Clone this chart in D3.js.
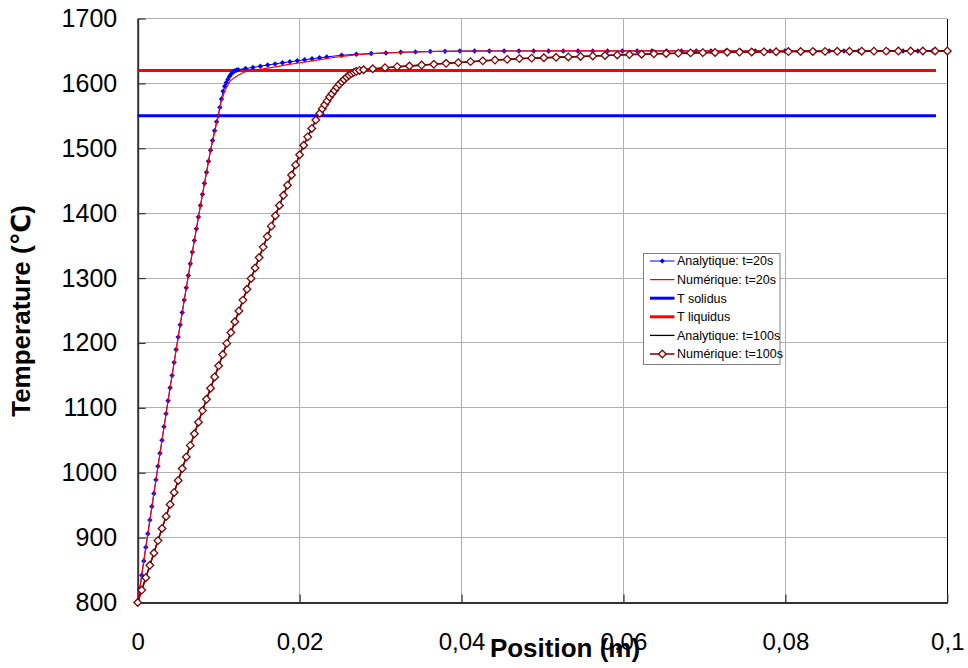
<!DOCTYPE html>
<html><head><meta charset="utf-8">
<script src="https://cdn.jsdelivr.net/npm/d3@7/dist/d3.min.js"></script>
<style>
html,body{margin:0;padding:0;background:#fff;}
svg{display:block;font-family:Arial,"Liberation Sans","DejaVu Sans",sans-serif;}
</style></head>
<body><svg id="chart" width="968" height="668"></svg>
<script>
// ---------- DATA ----------
const xTicks = [0, 0.02, 0.04, 0.06, 0.08, 0.1];
const xTickLabels = ["0", "0,02", "0,04", "0,06", "0,08", "0,1"];
const yTicks = [800, 900, 1000, 1100, 1200, 1300, 1400, 1500, 1600, 1700];
const yTickLabels = ["800", "900", "1000", "1100", "1200", "1300", "1400", "1500", "1600", "1700"];
const seriesNames = ["Analytique: t=20s", "Numérique: t=20s", "T solidus", "T liquidus", "Analytique: t=100s", "Numérique: t=100s"];

// Analytique t=20s  [position (m), temperature (°C)]
const analytique20 = [[0,800],[0.00025,821],[0.0005,842],[0.00075,864],[0.001,885],[0.00125,906],[0.0015,927],[0.00175,948],[0.002,968],[0.00225,989],[0.0025,1010],[0.00275,1030],[0.003,1050],[0.00325,1071],[0.0035,1091],[0.00375,1111],[0.004,1131],[0.00425,1150],[0.0045,1170],[0.00475,1190],[0.005,1209],[0.00525,1228],[0.0055,1247],[0.00575,1266],[0.006,1285],[0.00625,1304],[0.0065,1322],[0.00675,1340],[0.007,1358],[0.00725,1376],[0.0075,1394],[0.00775,1412],[0.008,1429],[0.00825,1446],[0.0085,1463],[0.00875,1480],[0.009,1497],[0.00925,1512],[0.0095,1527],[0.00975,1541],[0.00995,1550],[0.01015,1563],[0.01035,1576],[0.01055,1588],[0.01075,1595.5],[0.01095,1601.3],[0.01115,1606.5],[0.01135,1611],[0.01155,1614.5],[0.01175,1617],[0.01195,1619],[0.01218,1620.3],[0.01241,1621.2],[0.01332,1623],[0.01423,1624.6],[0.01515,1626.5],[0.01606,1628.3],[0.01697,1630],[0.01788,1631.7],[0.0188,1633.3],[0.01971,1634.9],[0.02062,1636.4],[0.02153,1637.9],[0.02245,1639.4],[0.02336,1640.8],[0.02519,1643.4],[0.02701,1644.9],[0.02884,1646],[0.03066,1646.9],[0.03249,1648],[0.03431,1648.5],[0.03614,1649.1],[0.03796,1649.5],[0.03979,1649.8],[0.04161,1650],[0.04344,1650],[0.04526,1650],[0.04709,1650],[0.04891,1650],[0.05074,1650],[0.05256,1650],[0.05439,1650],[0.05621,1650],[0.05804,1650],[0.05986,1650],[0.06169,1650],[0.06351,1650],[0.06534,1650],[0.06716,1650],[0.06899,1650],[0.07081,1650],[0.07264,1650],[0.07446,1650],[0.07629,1650],[0.07811,1650],[0.07994,1650],[0.08176,1650],[0.08359,1650],[0.08541,1650],[0.08724,1650],[0.08906,1650],[0.09089,1650],[0.09271,1650],[0.09454,1650],[0.09636,1650],[0.09819,1650],[0.1,1650]];

// Numérique t=20s
const numerique20 = [[0,800],[0.001,885],[0.002,968],[0.003,1050],[0.004,1131],[0.005,1209],[0.006,1285],[0.007,1358],[0.008,1429],[0.009,1497],[0.00995,1550],[0.0103,1571],[0.0108,1590],[0.0114,1603.5],[0.0122,1611],[0.013,1616.5],[0.0135,1618.8],[0.0145,1621],[0.0155,1622.5],[0.017,1625.5],[0.0183,1628.5],[0.0197,1631],[0.021,1633.5],[0.0225,1636.5],[0.024,1639.5],[0.0255,1642],[0.0275,1644.5],[0.03,1646.5],[0.033,1648],[0.037,1649.2],[0.042,1649.8],[0.05,1650],[0.1,1650]];

const solidus = [[0,1550],[0.0986,1550]];
const liquidus = [[0,1620],[0.0986,1620]];

// Analytique t=100s
const analytique100 = [[0,800],[0.00262,900],[0.00532,1000],[0.00812,1100],[0.01102,1200],[0.01402,1300],[0.01712,1400],[0.02032,1500],[0.02225,1550],[0.0234,1572],[0.0245,1591],[0.0255,1605.5],[0.0262,1613],[0.0268,1617.5],[0.0274,1620.3],[0.0282,1621.7],[0.0295,1622.7],[0.031,1624.4],[0.0325,1626],[0.034,1627.2],[0.036,1629],[0.038,1630.8],[0.04,1632.4],[0.042,1634],[0.045,1636.6],[0.048,1638.6],[0.052,1640.3],[0.056,1642.1],[0.06,1644],[0.065,1646],[0.07,1647.4],[0.075,1648.3],[0.08,1649],[0.085,1649.3],[0.09,1649.6],[0.095,1649.8],[0.1,1650]];

// Numérique t=100s
const numerique100 = [[0,800],[0.0005,819.1],[0.001,838.2],[0.0015,857.3],[0.002,876.3],[0.0025,895.4],[0.003,914.1],[0.0035,932.6],[0.004,951.1],[0.0045,969.6],[0.005,988.1],[0.0055,1006.4],[0.006,1024.3],[0.0065,1042.1],[0.007,1060],[0.0075,1077.9],[0.008,1095.7],[0.0085,1113.1],[0.009,1130.3],[0.0095,1147.6],[0.01,1164.8],[0.0105,1182.1],[0.011,1199.3],[0.0115,1216],[0.012,1232.7],[0.0125,1249.3],[0.013,1266],[0.0135,1282.7],[0.014,1299.3],[0.0145,1315.5],[0.015,1331.6],[0.0155,1347.7],[0.016,1363.9],[0.0165,1380],[0.017,1396.1],[0.0175,1411.9],[0.018,1427.5],[0.0185,1443.1],[0.019,1458.8],[0.0195,1474.4],[0.02,1490],[0.0205,1504.7],[0.021,1517.6],[0.0215,1530.6],[0.022,1543.5],[0.0225,1554],[0.0228,1561],[0.0231,1567],[0.0234,1573],[0.0237,1579],[0.024,1584],[0.0243,1589],[0.0246,1594],[0.0249,1598.5],[0.0252,1602.5],[0.0255,1606],[0.0258,1609.5],[0.0261,1612.5],[0.0264,1615],[0.0267,1617],[0.027,1618.5],[0.0274,1620],[0.0279,1621],[0.02903,1622.5],[0.03054,1624.2],[0.03205,1625.8],[0.03356,1626.8],[0.03507,1628.2],[0.03658,1629.4],[0.03809,1630.9],[0.0396,1632],[0.04111,1633.5],[0.04262,1634.7],[0.04413,1635.9],[0.04564,1637],[0.04715,1638.2],[0.04866,1638.9],[0.05017,1639.5],[0.05168,1640.2],[0.05319,1640.8],[0.0547,1641.5],[0.05621,1642.2],[0.05772,1643],[0.05923,1643.7],[0.06074,1644.4],[0.06225,1645],[0.06376,1645.6],[0.06527,1646.1],[0.06678,1646.6],[0.06829,1647],[0.0698,1647.4],[0.07131,1647.7],[0.07282,1648],[0.07433,1648.2],[0.07584,1648.4],[0.07735,1648.6],[0.07886,1648.8],[0.08037,1649],[0.08188,1649.1],[0.08339,1649.2],[0.0849,1649.3],[0.08641,1649.4],[0.08792,1649.5],[0.08943,1649.6],[0.09094,1649.7],[0.09245,1649.7],[0.09396,1649.8],[0.09547,1649.8],[0.09698,1649.9],[0.09849,1649.9],[0.1,1650]];

// ---------- DRAWING ----------
const svg = d3.select("#chart");
const L = 137.7, R = 947.3, T = 18.5, B = 602.5;
const x = d3.scaleLinear().domain([0, 0.1]).range([L, R]);
const y = d3.scaleLinear().domain([800, 1700]).range([B, T]);

svg.append("rect").attr("width", 968).attr("height", 668).attr("fill", "#fff");

// gridlines
const grid = svg.append("g");
grid.selectAll("line.h").data(yTicks.filter(d => d > 800)).enter().append("line")
  .attr("x1", L).attr("x2", R).attr("y1", d => y(d)).attr("y2", d => y(d))
  .attr("stroke", "#b0b0b0").attr("stroke-width", 1).attr("shape-rendering", "crispEdges");
grid.selectAll("line.v").data(xTicks.filter(d => d > 0 && d < 0.1)).enter().append("line")
  .attr("x1", d => x(d)).attr("x2", d => x(d)).attr("y1", T).attr("y2", B)
  .attr("stroke", "#b0b0b0").attr("stroke-width", 1).attr("shape-rendering", "crispEdges");
// right border
grid.append("line").attr("x1", R).attr("x2", R).attr("y1", T).attr("y2", B)
  .attr("stroke", "#000").attr("stroke-width", 1).attr("shape-rendering", "crispEdges");

// axes
const yAxis = d3.axisLeft(y).tickValues(yTicks).tickFormat((d, i) => yTickLabels[i])
  .tickSizeInner(-8).tickSizeOuter(0).tickPadding(20);
const gy = svg.append("g").attr("transform", `translate(${L},0)`).call(yAxis);
gy.select(".domain").attr("stroke", "#333").attr("stroke-width", 2);
gy.selectAll(".tick line").attr("stroke", "#333").attr("stroke-width", 1.2);
gy.selectAll(".tick text").attr("font-size", 25).attr("fill", "#000")
  .attr("font-family", "Arial, 'Liberation Sans', sans-serif").attr("x", -20.5);

const xAxis = d3.axisBottom(x).tickValues(xTicks).tickFormat((d, i) => xTickLabels[i])
  .tickSizeInner(-8).tickSizeOuter(0).tickPadding(30);
const gx = svg.append("g").attr("transform", `translate(0,${B})`).call(xAxis);
gx.select(".domain").attr("stroke", "#333").attr("stroke-width", 2);
gx.selectAll(".tick line").attr("stroke", "#333").attr("stroke-width", 1.2);
gx.selectAll(".tick text").attr("font-size", 24).attr("fill", "#000")
  .attr("font-family", "Arial, 'Liberation Sans', sans-serif").attr("dy", 0).attr("y", 47);

// axis titles
svg.append("text").attr("x", 565).attr("y", 657).attr("text-anchor", "middle")
  .attr("font-size", 26).attr("font-weight", "bold").text("Position (m)");
svg.append("text").attr("transform", "translate(30,311) rotate(-90)").attr("text-anchor", "middle")
  .attr("font-size", 26).attr("font-weight", "bold").text("Temperature (℃)");

// lines
const line = d3.line().x(d => x(d[0])).y(d => y(d[1]));
const plot = svg.append("g");
plot.append("path").datum(solidus).attr("d", line).attr("fill", "none").attr("stroke", "#0000ff").attr("stroke-width", 3);
plot.append("path").datum(liquidus).attr("d", line).attr("fill", "none").attr("stroke", "#ff0000").attr("stroke-width", 3);

const diamond = r => `M0,${-r}L${r},0L0,${r}L${-r},0Z`;

plot.append("path").datum(analytique20).attr("d", line).attr("fill", "none").attr("stroke", "#0000ff").attr("stroke-width", 1);
plot.selectAll("path.m20").data(analytique20).enter().append("path")
  .attr("transform", d => `translate(${x(d[0])},${y(d[1])})`).attr("d", diamond(2.7)).attr("fill", "#0000ff");
plot.append("path").datum(numerique20).attr("d", line).attr("fill", "none").attr("stroke", "#ff0000").attr("stroke-width", 1.2);

plot.append("path").datum(analytique100).attr("d", line).attr("fill", "none").attr("stroke", "#000").attr("stroke-width", 1.3);
plot.append("path").datum(numerique100).attr("d", line).attr("fill", "none").attr("stroke", "#800000").attr("stroke-width", 1.5);
plot.selectAll("path.m100").data(numerique100).enter().append("path")
  .attr("transform", d => `translate(${x(d[0])},${y(d[1])})`).attr("d", diamond(3.8))
  .attr("fill", "#fff").attr("stroke", "#800000").attr("stroke-width", 1.3);

// legend
const lg = svg.append("g");
lg.append("rect").attr("x", 643.5).attr("y", 253.5).attr("width", 136.5).attr("height", 111)
  .attr("fill", "#fff").attr("stroke", "#808080").attr("stroke-width", 1);
const legendStyles = [
  {c: "#0000ff", w: 1, m: "blue"},
  {c: "#ff0000", w: 1.2, m: null},
  {c: "#0000ff", w: 3, m: null},
  {c: "#ff0000", w: 3, m: null},
  {c: "#000000", w: 1.3, m: null},
  {c: "#800000", w: 1.5, m: "dia"}
];
seriesNames.forEach((name, i) => {
  const cy = 261 + i * 18.6;
  const s = legendStyles[i];
  lg.append("line").attr("x1", 650).attr("x2", 674.5).attr("y1", cy).attr("y2", cy)
    .attr("stroke", s.c).attr("stroke-width", s.w);
  if (s.m === "blue") lg.append("path").attr("transform", `translate(662.3,${cy})`).attr("d", diamond(2.6)).attr("fill", "#0000ff");
  if (s.m === "dia") lg.append("path").attr("transform", `translate(662.3,${cy})`).attr("d", diamond(3.8))
    .attr("fill", "#fff").attr("stroke", "#800000").attr("stroke-width", 1.3);
  lg.append("text").attr("x", 677).attr("y", cy).attr("dy", "0.35em").attr("font-size", 12.5).attr("fill", "#000").text(name);
});
</script>
</body></html>
